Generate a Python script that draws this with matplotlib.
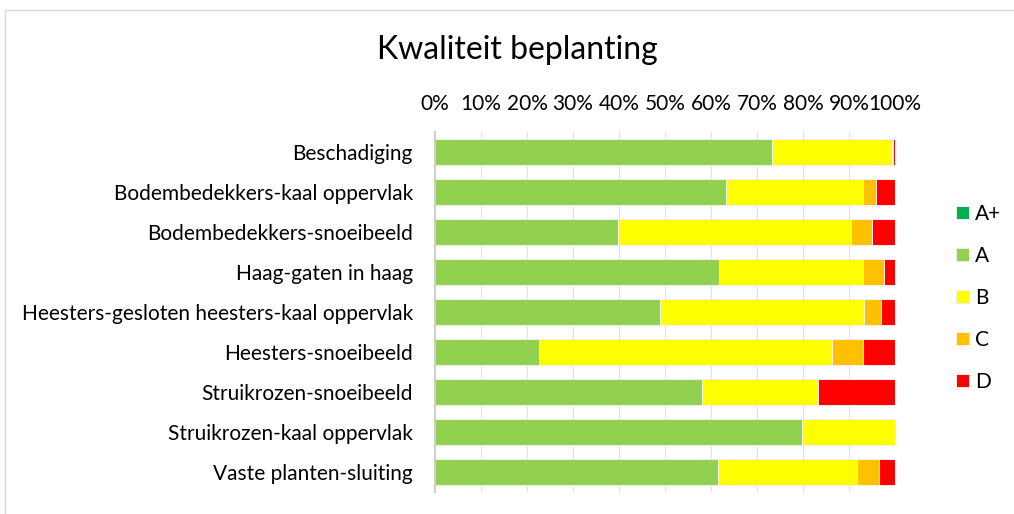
import numpy as np
import matplotlib
matplotlib.use("Agg")
import matplotlib.pyplot as plt
from matplotlib.patches import Rectangle
from matplotlib.ticker import PercentFormatter

plt.rcParams['font.family'] = ['Lato', 'DejaVu Sans']

# data (share per category, in %)
categories = [
    'Beschadiging',
    'Bodembedekkers-kaal oppervlak',
    'Bodembedekkers-snoeibeeld',
    'Haag-gaten in haag',
    'Heesters-gesloten heesters-kaal oppervlak',
    'Heesters-snoeibeeld',
    'Struikrozen-snoeibeeld',
    'Struikrozen-kaal oppervlak',
    'Vaste planten-sluiting',
]
a_plus = [0, 0, 0, 0, 0, 0, 0, 0, 0]
a = [73.3, 63.3, 39.7, 61.8, 49.0, 22.6, 58.1, 79.8, 61.5]
b = [26.0, 29.8, 50.8, 31.3, 44.3, 63.8, 25.2, 20.2, 30.3]
c = [0.3, 2.8, 4.5, 4.5, 3.7, 6.7, 0.0, 0.0, 4.7]
d = [0.4, 4.1, 5.0, 2.4, 3.0, 6.9, 16.7, 0.0, 3.5]

series = [('A+', a_plus, '#00B050'), ('A', a, '#92D050'), ('B', b, '#FFFF00'),
          ('C', c, '#FFC000'), ('D', d, '#FF0000')]

fig = plt.figure(figsize=(10.14, 5.14), dpi=100)
ax = fig.add_axes([435 / 1014, 22 / 514, 460 / 1014, 360 / 514])

# chart frame
fig.patches.append(Rectangle((5 / 1014, -0.01), 1.0, (514 - 10) / 514 + 0.01,
                             transform=fig.transFigure, fill=False,
                             edgecolor='#d9d9d9', linewidth=1))

y = np.arange(len(categories))
left = np.zeros(len(categories))
handles = []
for name, vals, col in series:
    vals = np.array(vals, dtype=float)
    h = ax.barh(y, vals, left=left, height=0.64, color=col,
                edgecolor='#f0f0f0', linewidth=0.7, label=name, zorder=3)
    handles.append(h)
    left += vals

ax.set_xlim(0, 100)
ax.set_ylim(len(categories) - 0.5, -0.5)
ax.set_yticks(y)
ax.set_yticklabels(categories)
ax.set_xticks(np.arange(0, 101, 10))
ax.xaxis.set_major_formatter(PercentFormatter(decimals=0))
ax.xaxis.tick_top()
ax.tick_params(axis='x', length=0, pad=13, labelsize=15, colors='#000000')
ax.tick_params(axis='y', length=0, pad=16, labelsize=15)
ax.grid(axis='x', color='#e0e0e0', linewidth=0.8, zorder=0)

for s in ['top', 'right', 'bottom']:
    ax.spines[s].set_visible(False)
ax.spines['left'].set_color('#d0d0d0')
ax.spines['left'].set_linewidth(1.5)
ax.spines['left'].set_zorder(4)

fig.text(517 / 1014, 1 - 50 / 514, 'Kwaliteit beplanting', ha='center',
         va='center', fontsize=23)

fig.legend(handles=handles, loc='center left',
           bbox_to_anchor=(956 / 1014, 1 - 298 / 514), frameon=False,
           fontsize=15, handlelength=0.6, handleheight=0.6,
           handletextpad=0.3, labelspacing=1.06, borderpad=0,
           borderaxespad=0)

fig.savefig('out.png', dpi=100)
